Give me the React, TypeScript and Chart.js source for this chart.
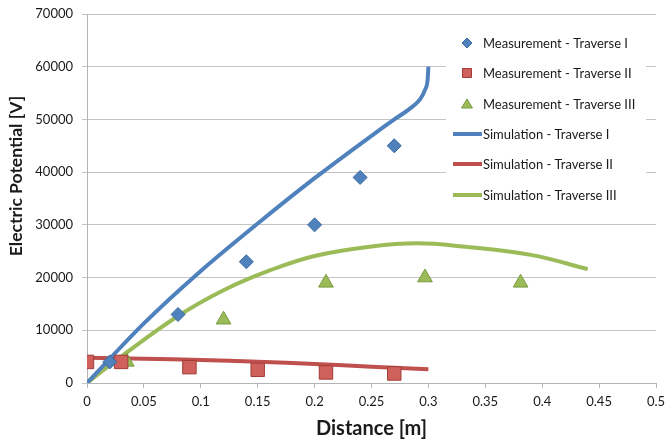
import React, { useEffect, useRef } from "react";
import { Chart, registerables } from "chart.js";

Chart.register(...registerables);

const measX1 = [0.02, 0.08, 0.14, 0.2, 0.24, 0.27];
const measY1 = [4000, 13000, 23000, 30000, 39000, 45000];
const measX2 = [0, 0.03, 0.09, 0.15, 0.21, 0.27];
const measY2 = [4000, 4000, 3000, 2500, 2000, 1800];
const measX3 = [0.035, 0.12, 0.21, 0.297, 0.381];
const measY3 = [4000, 12000, 19000, 20000, 19000];

const simX1 = [0, 0.05, 0.1, 0.15, 0.2, 0.25, 0.27, 0.284, 0.2926, 0.297, 0.2993, 0.3];
const simY1 = [0, 11300, 21250, 30250, 38850, 46900, 50000, 52100, 53800, 55600, 57500, 60000];
const simX2 = [0, 0.05, 0.1, 0.15, 0.2, 0.25, 0.3];
const simY2 = [4800, 4600, 4350, 4050, 3600, 3100, 2600];
const simX3 = [0, 0.03, 0.08, 0.12, 0.16, 0.2, 0.25, 0.29, 0.33, 0.39, 0.44];
const simY3 = [0, 5000, 12700, 17600, 21300, 24100, 25900, 26500, 25900, 24300, 21600];

const seriesNames = [
  "Measurement - Traverse I",
  "Measurement - Traverse II",
  "Measurement - Traverse III",
  "Simulation - Traverse I",
  "Simulation - Traverse II",
  "Simulation - Traverse III",
];

const xTitle = "Distance [m]";
const yTitle = "Electric Potential [V]";

const BLUE = "#4F81BD";
const RED = "#C0504D";
const GREEN = "#9BBB59";

const pts = (xs: number[], ys: number[]) => xs.map((x, i) => ({ x, y: ys[i] }));

const FONT = "Lato, 'Open Sans', sans-serif";

const legendPlugin = {
  id: "insideLegend",
  afterDraw(chart: any) {
    const ctx = chart.ctx;
    ctx.save();
    ctx.fillStyle = "#ffffff";
    ctx.fillRect(446, 22, 200, 190);
    const ys = [43, 73, 104, 134, 164, 195];
    chart.data.datasets.forEach((ds: any, i: number) => {
      const y = ys[i];
      if (ds.showLine) {
        ctx.strokeStyle = ds.borderColor;
        ctx.lineWidth = 4;
        ctx.beginPath();
        ctx.moveTo(453, y);
        ctx.lineTo(482, y);
        ctx.stroke();
      } else {
        ctx.fillStyle = ds.backgroundColor;
        ctx.strokeStyle = ds.borderColor;
        ctx.lineWidth = 1;
        ctx.beginPath();
        const cx = 467;
        if (ds.pointStyle === "rectRot") {
          ctx.moveTo(cx, y - 5);
          ctx.lineTo(cx + 5, y);
          ctx.lineTo(cx, y + 5);
          ctx.lineTo(cx - 5, y);
        } else if (ds.pointStyle === "rect") {
          ctx.rect(cx - 4.5, y - 4.5, 9, 9);
        } else {
          ctx.moveTo(cx, y - 5);
          ctx.lineTo(cx + 5.5, y + 4);
          ctx.lineTo(cx - 5.5, y + 4);
        }
        ctx.closePath();
        ctx.fill();
        ctx.stroke();
      }
      ctx.fillStyle = "#1a1a1a";
      ctx.font = `13px ${FONT}`;
      ctx.textBaseline = "middle";
      ctx.textAlign = "left";
      ctx.fillText(ds.label, 483, y + 0.5);
    });
    // y-axis title
    ctx.translate(16, 176);
    ctx.rotate(-Math.PI / 2);
    ctx.fillStyle = "#1a1a1a";
    ctx.font = `bold 17.5px ${FONT}`;
    ctx.textAlign = "center";
    ctx.textBaseline = "middle";
    ctx.fillText(yTitle, 0, 0);
    ctx.restore();
  },
};

export default function App() {
  const ref = useRef<HTMLCanvasElement | null>(null);

  useEffect(() => {
    document.body.style.margin = "0";
    const canvas = ref.current;
    if (!canvas) return;
    const chart = new Chart(canvas, {
      type: "scatter",
      data: {
        datasets: [
          {
            label: seriesNames[0],
            data: pts(measX1, measY1),
            pointStyle: "rectRot",
            pointRadius: 7,
            backgroundColor: BLUE,
            borderColor: "#3B6AA0",
            borderWidth: 1,
            showLine: false,
          },
          {
            label: seriesNames[1],
            data: pts(measX2, measY2),
            pointStyle: "rect",
            pointRadius: 9.5,
            backgroundColor: "#D0605C",
            borderColor: "#A03C39",
            borderWidth: 1,
            showLine: false,
          },
          {
            label: seriesNames[2],
            data: pts(measX3, measY3),
            pointStyle: "triangle",
            pointRadius: 8.5,
            backgroundColor: GREEN,
            borderColor: "#789A3D",
            borderWidth: 1,
            showLine: false,
          },
          {
            label: seriesNames[3],
            data: pts(simX1, simY1),
            showLine: true,
            borderColor: BLUE,
            backgroundColor: BLUE,
            borderWidth: 4,
            pointRadius: 0,
            cubicInterpolationMode: "monotone",
          },
          {
            label: seriesNames[4],
            data: pts(simX2, simY2),
            showLine: true,
            borderColor: RED,
            backgroundColor: RED,
            borderWidth: 4,
            pointRadius: 0,
            tension: 0.4,
          },
          {
            label: seriesNames[5],
            data: pts(simX3, simY3),
            showLine: true,
            borderColor: GREEN,
            backgroundColor: GREEN,
            borderWidth: 4,
            pointRadius: 0,
            tension: 0.4,
          },
        ] as any,
      },
      options: {
        animation: false,
        responsive: false,
        maintainAspectRatio: false,
        layout: { padding: { top: 14, right: 11, bottom: 0, left: 0 } },
        plugins: {
          legend: { display: false },
          tooltip: { enabled: false },
        },
        scales: {
          x: {
            type: "linear",
            min: 0,
            max: 0.5,
            afterFit: (s: any) => {
              s.height = 58;
              s.paddingRight = 0;
            },
            ticks: {
              stepSize: 0.05,
              padding: 6,
              color: "#1a1a1a",
              font: { family: FONT, size: 13 },
              callback: (v: any) => String(Math.round(Number(v) * 100) / 100),
            },
            grid: {
              drawOnChartArea: false,
              drawTicks: true,
              tickLength: 5,
              color: "#b5b5b5",
            },
            border: { display: true, color: "#b5b5b5", width: 1 },
            title: {
              display: true,
              text: xTitle,
              color: "#1a1a1a",
              font: { family: FONT, size: 20, weight: "bold" },
              padding: { top: 0, bottom: 0 },
            },
          },
          y: {
            type: "linear",
            min: 0,
            max: 70000,
            afterFit: (s: any) => {
              s.width = 87;
              s.paddingTop = 0;
            },
            ticks: {
              stepSize: 10000,
              padding: 9,
              color: "#1a1a1a",
              font: { family: FONT, size: 13 },
              callback: (v: any) => String(v),
            },
            grid: {
              color: "#c4c4c4",
              tickLength: 5,
            },
            border: { display: true, color: "#b5b5b5", width: 1 },
          },
        },
      },
      plugins: [legendPlugin],
    });
    return () => chart.destroy();
  }, []);

  return (
    <div style={{ width: 667, height: 441 }}>
      <canvas ref={ref} width={667} height={441} style={{ display: "block" }} />
    </div>
  );
}
